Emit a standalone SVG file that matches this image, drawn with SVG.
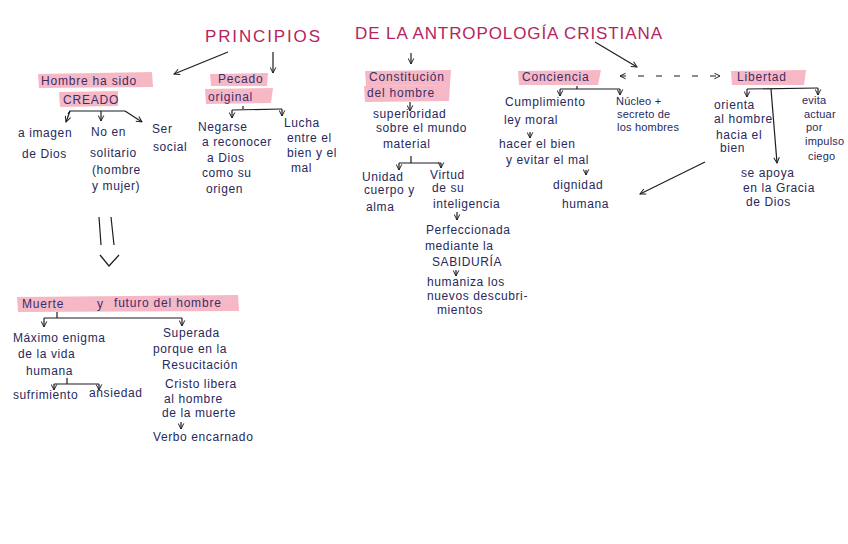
<svg xmlns="http://www.w3.org/2000/svg" width="848" height="544" viewBox="0 0 848 544">
<defs>
<style>
.t{font-family:"Liberation Sans",Arial,sans-serif;font-size:12px;fill:#27295c;letter-spacing:0.6px}
.h{font-family:"Liberation Sans",Arial,sans-serif;font-size:12px;fill:#3a2d6a;letter-spacing:0.8px}
.ttl{font-family:"Liberation Sans",Arial,sans-serif;font-size:17px;fill:#b5245e}
.hl{fill:#f4a0b2;opacity:0.75}
.c{fill:none;stroke:#1c1c24;stroke-width:1.2}
.d{fill:none;stroke:#1c1c24;stroke-width:1.2;stroke-dasharray:6 12}
.sm{font-size:11px;letter-spacing:0.2px}
</style>
<marker id="ah" viewBox="0 0 10 10" refX="9" refY="5" markerWidth="7" markerHeight="7" orient="auto-start-reverse" markerUnits="userSpaceOnUse">
<path d="M1,1 L9,5 L1,9" fill="none" stroke="#1c1c24" stroke-width="1.4"/>
</marker>
</defs>
<rect width="848" height="544" fill="#ffffff"/>

<g id="title">
<text class="ttl" x="205" y="42" textLength="115" lengthAdjust="spacing">PRINCIPIOS</text>
<text class="ttl" x="355" y="39" textLength="307" lengthAdjust="spacing">DE LA ANTROPOLOGÍA CRISTIANA</text>
</g>

<g id="connectors">
<path class="c" d="M228,52 L174,74" marker-end="url(#ah)"/>
<path class="c" d="M273,52 L273,73" marker-end="url(#ah)"/>
<path class="c" d="M411,53 L411,64" marker-end="url(#ah)"/>
<path class="c" d="M595,42 L637,67" marker-end="url(#ah)"/>
<!-- Hombre -->
<path class="c" d="M68,114 L70,111 L125,111"/>
<path class="c" d="M70,111 L66,122" marker-end="url(#ah)"/>
<path class="c" d="M101,111 L101,121" marker-end="url(#ah)"/>
<path class="c" d="M125,111 L142,122" marker-end="url(#ah)"/>
<!-- Pecado -->
<path class="c" d="M243,106 L243,109 M232,110 L282,109"/>
<path class="c" d="M232,110 L232,118" marker-end="url(#ah)"/>
<path class="c" d="M282,109 L282,116" marker-end="url(#ah)"/>
<!-- Constitucion -->
<path class="c" d="M410,102 L410,111" marker-end="url(#ah)"/>
<path class="c" d="M411,156 L411,163 M399,163 L441,163"/>
<path class="c" d="M399,163 L399,170" marker-end="url(#ah)"/>
<path class="c" d="M441,163 L441,168" marker-end="url(#ah)"/>
<path class="c" d="M457,212 L457,220" marker-end="url(#ah)"/>
<path class="c" d="M456,270 L456,276" marker-end="url(#ah)"/>
<!-- Conciencia -->
<path class="c" d="M577,86 L577,89 M560,89 L620,89"/>
<path class="c" d="M560,89 L560,96" marker-end="url(#ah)"/>
<path class="c" d="M620,89 L620,95" marker-end="url(#ah)"/>
<path class="c" d="M530,132 L530,138" marker-end="url(#ah)"/>
<path class="c" d="M586,170 L586,175" marker-end="url(#ah)"/>
<!-- Conciencia <-> Libertad -->
<path class="d" d="M620,76 L720,76" marker-start="url(#ah)" marker-end="url(#ah)"/>
<!-- Libertad -->
<path class="c" d="M747,89 L818,88"/>
<path class="c" d="M747,89 L747,97" marker-end="url(#ah)"/>
<path class="c" d="M818,88 L818,95" marker-end="url(#ah)"/>
<path class="c" d="M771,89 L777,163" marker-end="url(#ah)"/>
<path class="c" d="M705,162 L640,194" marker-end="url(#ah)"/>
<!-- double arrow -->
<path class="c" d="M99,217 L101,245 M111,217 L114,245"/>
<path class="c" d="M100,255 L109,266 L119,255"/>
<!-- Muerte -->
<path class="c" d="M57,312 L57,318 M44,318 L182,318"/>
<path class="c" d="M44,318 L44,327" marker-end="url(#ah)"/>
<path class="c" d="M182,318 L182,326" marker-end="url(#ah)"/>
<path class="c" d="M67,378 L67,384 M54,384 L99,384"/>
<path class="c" d="M54,384 L54,390" marker-end="url(#ah)"/>
<path class="c" d="M99,384 L99,390" marker-end="url(#ah)"/>
<path class="c" d="M181,422 L181,429" marker-end="url(#ah)"/>
</g>

<g id="hombre">
<polygon class="hl" points="38,74 152,72 153,87 39,88"/>
<polygon class="hl" points="59,92 118,91 118,106 60,107"/>
<text class="h" x="41" y="85">Hombre ha sido</text>
<text class="h" x="63" y="104">CREADO</text>
</g>
<g id="imagen"><text class="t" x="18" y="137">a imagen</text><text class="t" x="22" y="158">de Dios</text></g>
<g id="solitario"><text class="t" x="91" y="136">No en</text><text class="t" x="90" y="157">solitario</text><text class="t" x="92" y="174">(hombre</text><text class="t" x="92" y="190">y mujer)</text></g>
<g id="social"><text class="t" x="152" y="133">Ser</text><text class="t" x="153" y="151">social</text></g>

<g id="pecado">
<polygon class="hl" points="210,74 268,73 267,86 211,86"/>
<polygon class="hl" points="205,89 273,88 271,103 206,104"/>
<text class="h" x="218" y="83">Pecado</text>
<text class="h" x="208" y="101">original</text>
</g>
<g id="negarse"><text class="t" x="198" y="131">Negarse</text><text class="t" x="202" y="146">a reconocer</text><text class="t" x="207" y="162">a Dios</text><text class="t" x="202" y="177">como su</text><text class="t" x="206" y="193">origen</text></g>
<g id="lucha"><text class="t" x="284" y="127">Lucha</text><text class="t" x="287" y="142">entre el</text><text class="t" x="287" y="157">bien y el</text><text class="t" x="291" y="172">mal</text></g>

<g id="constitucion">
<polygon class="hl" points="365,71 451,70 450,85 366,86"/>
<polygon class="hl" points="364,86 450,85 449,101 365,102"/>
<text class="h" x="369" y="81">Constitución</text>
<text class="h" x="367" y="97">del hombre</text>
</g>
<g id="superioridad"><text class="t" x="373" y="118">superioridad</text><text class="t" x="376" y="132">sobre el mundo</text><text class="t" x="383" y="148">material</text></g>
<g id="unidad"><text class="t" x="362" y="181">Unidad</text><text class="t" x="364" y="194">cuerpo y</text><text class="t" x="366" y="211">alma</text></g>
<g id="virtud"><text class="t" x="430" y="179">Virtud</text><text class="t" x="432" y="192">de su</text><text class="t" x="433" y="208">inteligencia</text></g>
<g id="sabiduria"><text class="t" x="426" y="234">Perfeccionada</text><text class="t" x="425" y="250">mediante la</text><text class="t" x="432" y="266">SABIDURÍA</text></g>
<g id="humaniza"><text class="t" x="427" y="286">humaniza los</text><text class="t" x="427" y="300">nuevos descubri-</text><text class="t" x="437" y="314">mientos</text></g>

<g id="conciencia">
<polygon class="hl" points="518,71 601,70 598,85 519,85"/>
<text class="h" x="522" y="81">Conciencia</text>
</g>
<g id="cumplimiento"><text class="t" x="505" y="106">Cumplimiento</text><text class="t" x="504" y="124">ley moral</text></g>
<g id="hacer"><text class="t" x="499" y="148">hacer el bien</text><text class="t" x="506" y="164">y evitar el mal</text></g>
<g id="dignidad"><text class="t" x="553" y="189">dignidad</text><text class="t" x="562" y="208">humana</text></g>
<g id="nucleo"><text class="t sm" x="616" y="105">Núcleo +</text><text class="t sm" x="617" y="118">secreto de</text><text class="t sm" x="617" y="131">los hombres</text></g>

<g id="libertad">
<polygon class="hl" points="731,71 806,70 804,85 732,85"/>
<text class="h" x="737" y="81">Libertad</text>
</g>
<g id="orienta"><text class="t" x="714" y="109">orienta</text><text class="t" x="714" y="123">al hombre</text><text class="t" x="716" y="139">hacia el</text><text class="t" x="720" y="152">bien</text></g>
<g id="evita"><text class="t sm" x="802" y="104">evita</text><text class="t sm" x="804" y="118">actuar</text><text class="t sm" x="806" y="131">por</text><text class="t sm" x="805" y="145">impulso</text><text class="t sm" x="808" y="160">ciego</text></g>
<g id="apoya"><text class="t" x="741" y="177">se apoya</text><text class="t" x="743" y="192">en la Gracia</text><text class="t" x="746" y="206">de Dios</text></g>

<g id="muerte">
<polygon class="hl" points="17,297 238,295 239,311 18,312"/>
<text class="h" x="22" y="308">Muerte</text>
<text class="h" x="97" y="308">y</text>
<text class="h" x="114" y="307">futuro del hombre</text>
</g>
<g id="enigma"><text class="t" x="13" y="342">Máximo enigma</text><text class="t" x="18" y="358">de la vida</text><text class="t" x="26" y="375">humana</text></g>
<g id="sufrimiento"><text class="t" x="13" y="399">sufrimiento</text></g>
<g id="ansiedad"><text class="t" x="89" y="397">ansiedad</text></g>
<g id="superada"><text class="t" x="163" y="337">Superada</text><text class="t" x="153" y="353">porque en la</text><text class="t" x="162" y="369">Resucitación</text><text class="t" x="165" y="388">Cristo libera</text><text class="t" x="164" y="403">al hombre</text><text class="t" x="162" y="417">de la muerte</text></g>
<g id="verbo"><text class="t" x="153" y="441">Verbo encarnado</text></g>
</svg>
